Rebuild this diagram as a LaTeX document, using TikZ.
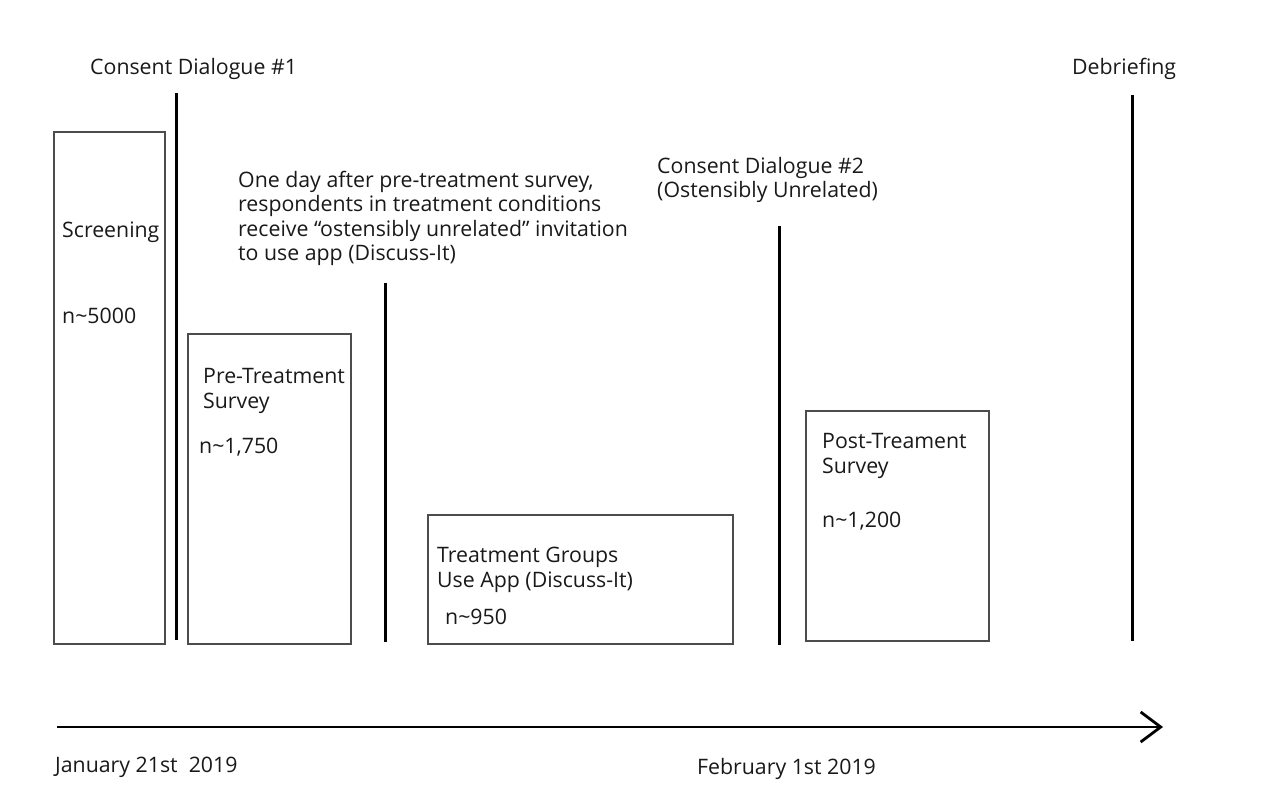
\documentclass[tikz,border=0pt]{standalone}
\usepackage{fontspec}
\setmainfont{Open Sans}
\usetikzlibrary{arrows.meta}

\tikzset{
  stage/.style={draw=black!70, line width=1.3pt, inner sep=0pt, outer sep=0pt, anchor=north west},
  marker/.style={line width=3pt, black},
  lbl/.style={anchor=base west, inner sep=0pt, align=left, text=black!90},
}

\begin{document}
\begin{tikzpicture}[x=1pt, y=-1pt, font=\fontsize{21.3}{24.5}\selectfont]
\useasboundingbox (0,0) rectangle (1277,791);

% boxes
\node[stage, minimum width=111pt, minimum height=512pt] (screen) at (54,132) {};
\node[stage, minimum width=163pt, minimum height=310pt] (pre) at (188,334) {};
\node[stage, minimum width=305pt, minimum height=129pt] (treat) at (428,515) {};
\node[stage, minimum width=183pt, minimum height=230pt] (post) at (806,411) {};

% time markers
\coordinate (m1top) at (176,93);   \coordinate (m1bot) at (176,640);
\coordinate (m2top) at (385,283);  \coordinate (m2bot) at (385,642);
\coordinate (m3top) at (779,226);  \coordinate (m3bot) at (779,645);
\coordinate (m4top) at (1132,95);  \coordinate (m4bot) at (1132,641);
\draw[marker] (m1top) -- (m1bot);
\draw[marker] (m2top) -- (m2bot);
\draw[marker] (m3top) -- (m3bot);
\draw[marker] (m4top) -- (m4bot);

% time axis
\coordinate (tstart) at (57,727);
\coordinate (tend) at (1163,727);
\draw[line width=2.8pt, -{Straight Barb[length=20pt, width=30pt, line width=2.8pt]}] (tstart) -- (tend);

% labels (multi-line ones sit on the baseline of their last line)
\node[lbl] (consent1) at (90,75) {Consent Dialogue \#1};
\node[lbl] (debrief) at (1072,75) {Debriefing};
\node[lbl] (invite) at (238,261) {One day after pre-treatment survey,\\respondents in treatment conditions\\receive “ostensibly unrelated” invitation\\to use app (Discuss-It)};
\node[lbl] (consent2) at (657,198) {Consent Dialogue \#2\\(Ostensibly Unrelated)};

\node[lbl] (screenlbl) at (62,238) {Screening};
\node[lbl] (screenn) at (62,324) {n\textasciitilde 5000};
\node[lbl] (prelbl) at (203,408) {Pre-Treatment\\Survey};
\node[lbl] (pren) at (199,453) {n\textasciitilde 1,750};
\node[lbl] (treatlbl) at (437,587) {Treatment Groups\\Use App (Discuss-It)};
\node[lbl] (treatn) at (445,624) {n\textasciitilde 950};
\node[lbl] (postlbl) at (822,473) {Post-Treament\\Survey};
\node[lbl] (postn) at (822,527) {n\textasciitilde 1,200};

\node[lbl] (date1) at (55,772) {January 21st\ \ 2019};
\node[lbl] (date2) at (697,774) {February 1st 2019};
\end{tikzpicture}
\end{document}
